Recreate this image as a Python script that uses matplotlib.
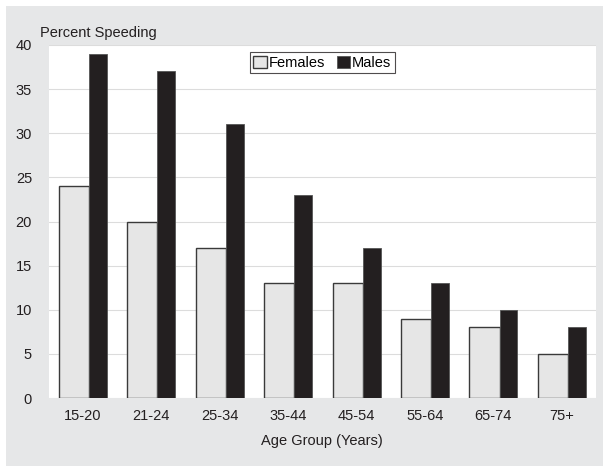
import matplotlib.pyplot as plt
import numpy as np
from matplotlib.patches import Rectangle

plt.rcParams["font.family"] = ["Liberation Sans", "DejaVu Sans"]

age_groups = ['15-20', '21-24', '25-34', '35-44', '45-54', '55-64', '65-74', '75+']
females = [24, 20, 17, 13, 13, 9, 8, 5]
males = [39, 37, 31, 23, 17, 13, 10, 8]
y_ticks = [0, 5, 10, 15, 20, 25, 30, 35, 40]

fig = plt.figure(figsize=(6.03, 4.66), dpi=100)
fig.patch.set_facecolor('white')
# grey panel behind the chart
fig.patches.append(Rectangle((6 / 603, 0), 1, 460 / 466, transform=fig.transFigure,
                             facecolor='#e6e7e8', edgecolor='none', zorder=-10))

ax = fig.add_axes([48.7 / 603, 68 / 466, (596 - 48.7) / 603, (398 - 45) / 466])
ax.set_zorder(1)
ax.set_facecolor('white')

x = np.arange(len(age_groups))
fw, mw = 0.44, 0.26
ax.bar(x - 0.35 + fw / 2, females, width=fw, color='#e6e6e6', edgecolor='#3a3a3a',
       linewidth=1.0, label='Females', zorder=3)
ax.bar(x + 0.09 + mw / 2, males, width=mw, color='#231f20', edgecolor='#555555',
       linewidth=0.6, label='Males', zorder=3)

ax.set_xlim(-0.5, len(age_groups) - 0.5)
ax.set_ylim(0, 40)
ax.set_yticks(y_ticks)
ax.set_xticks(x)
ax.set_xticklabels(age_groups)
ax.tick_params(axis='both', length=0, labelsize=10.5, colors='#231f20')
ax.tick_params(axis='y', pad=12)
ax.tick_params(axis='x', pad=8)
ax.yaxis.grid(True, color='#dcdcdc', linewidth=0.8, zorder=0)
ax.set_axisbelow(True)
for s in ax.spines.values():
    s.set_visible(False)

ax.set_xlabel('Age Group (Years)', fontsize=10.5, color='#231f20', labelpad=8)
fig.text(40 / 603, 1 - 33 / 466, 'Percent Speeding', fontsize=10.5, color='#231f20',
         ha='left', va='center')

leg = ax.legend(loc='upper center', bbox_to_anchor=(0.5, 0.98), ncol=2, frameon=True,
                fancybox=False, edgecolor='#231f20', fontsize=10.5, handlelength=0.9,
                handleheight=0.9, handletextpad=0.15, columnspacing=0.8,
                borderpad=0.25, borderaxespad=0)
leg.get_frame().set_linewidth(0.8)

fig.savefig('out.png', dpi=100)
